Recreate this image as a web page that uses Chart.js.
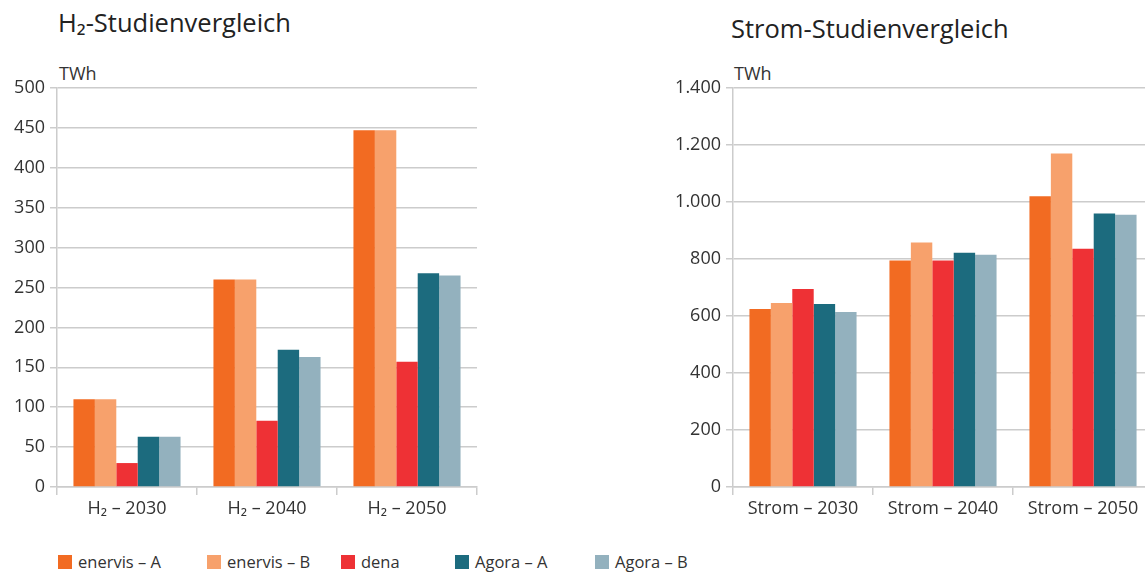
<!DOCTYPE html>
<html>
<head>
<meta charset="utf-8">
<script src="https://cdn.jsdelivr.net/npm/chart.js@4.4.1/dist/chart.umd.min.js"></script>
<style>
  html, body { margin: 0; padding: 0; background: #fff; overflow: hidden; }
  body { width: 1145px; height: 572px; position: relative; font-family: "Open Sans", sans-serif; color: #333; }
  .title { position: absolute; font-size: 25.5px; line-height: 1; color: #222; white-space: nowrap; }
  .unit { position: absolute; font-size: 18px; line-height: 1; color: #333; }
  .box { position: absolute; }
  #legend { position: absolute; left: 58px; top: 550px; height: 20px; font-size: 16.5px; color: #333; }
  #legend span.item { position: absolute; top: 0; white-space: nowrap; }
  #legend i { display: inline-block; width: 14px; height: 14px; vertical-align: -1px; margin-right: 6px; }
</style>
</head>
<body>
<div class="title" style="left:58px; top:10px;">H₂-Studienvergleich</div>
<div class="title" style="left:731px; top:16px;">Strom-Studienvergleich</div>
<div class="unit" style="left:59px; top:64px;">TWh</div>
<div class="unit" style="left:734px; top:64px;">TWh</div>
<div class="box" style="left:0; top:60px; width:490px; height:470px;"><canvas id="h2"></canvas></div>
<div class="box" style="left:665px; top:60px; width:500px; height:470px;"><canvas id="strom"></canvas></div>
<div id="legend"></div>
<script>
const seriesNames = ["enervis – A", "enervis – B", "dena", "Agora – A", "Agora – B"];
const seriesColors = ["#F26B22", "#F7A16C", "#EE3135", "#1C6B7E", "#93B1BE"];
const legendOffsets = [0, 149, 283, 397, 537];

const h2Categories = ["H₂ – 2030", "H₂ – 2040", "H₂ – 2050"];
const h2EnervisA = [110, 260, 447];
const h2EnervisB = [110, 260, 447];
const h2Dena = [30, 83, 157];
const h2AgoraA = [63, 172, 268];
const h2AgoraB = [63, 163, 265];

const stromCategories = ["Strom – 2030", "Strom – 2040", "Strom – 2050"];
const stromEnervisA = [625, 795, 1020];
const stromEnervisB = [646, 858, 1170];
const stromDena = [695, 795, 836];
const stromAgoraA = [642, 822, 960];
const stromAgoraB = [614, 815, 955];

const fontFamily = '"Open Sans", sans-serif';
const textColor = "#333";
const gridColor = "#cccccc";

function germanNumber(v) {
  return String(v).replace(/\B(?=(\d{3})+(?!\d))/g, ".");
}

function buildDatasets(seriesList) {
  return seriesList.map((data, i) => ({
    label: seriesNames[i],
    data: data,
    backgroundColor: seriesColors[i],
    borderWidth: 0,
    categoryPercentage: 0.765,
    barPercentage: 1.0,
  }));
}

function buildOptions(maxValue, stepSize, yWidth, rightPad) {
  return {
    responsive: true,
    maintainAspectRatio: false,
    animation: false,
    layout: { padding: { top: 28, right: rightPad, left: 0, bottom: 0 } },
    plugins: { legend: { display: false }, tooltip: { enabled: false } },
    scales: {
      x: {
        grid: { display: true, drawOnChartArea: false, drawTicks: true, tickLength: 8, offset: true, color: gridColor, lineWidth: 1.5 },
        border: { display: true, color: gridColor, width: 1.5 },
        ticks: { color: textColor, font: { family: fontFamily, size: 18 }, padding: 3, maxRotation: 0 },
        afterFit: (scale) => { scale.height = 43; },
      },
      y: {
        min: 0,
        max: maxValue,
        grid: { color: gridColor, lineWidth: 1.5, tickLength: 7 },
        border: { display: true, color: gridColor, width: 1.5 },
        ticks: {
          stepSize: stepSize,
          color: textColor,
          font: { family: fontFamily, size: 18 },
          padding: 5,
          callback: (v) => germanNumber(v),
        },
        afterFit: (scale) => { scale.width = yWidth; },
      },
    },
  };
}

new Chart(document.getElementById("h2"), {
  type: "bar",
  data: {
    labels: h2Categories,
    datasets: buildDatasets([h2EnervisA, h2EnervisB, h2Dena, h2AgoraA, h2AgoraB]),
  },
  options: buildOptions(500, 50, 57, 13),
});

new Chart(document.getElementById("strom"), {
  type: "bar",
  data: {
    labels: stromCategories,
    datasets: buildDatasets([stromEnervisA, stromEnervisB, stromDena, stromAgoraA, stromAgoraB]),
  },
  options: buildOptions(1400, 200, 68, 12),
});

// shared legend below both charts
const legend = document.getElementById("legend");
seriesNames.forEach((name, i) => {
  const item = document.createElement("span");
  item.className = "item";
  item.style.left = legendOffsets[i] + "px";
  item.innerHTML = '<i style="background:' + seriesColors[i] + '"></i>' + name;
  legend.appendChild(item);
});
</script>
</body>
</html>
